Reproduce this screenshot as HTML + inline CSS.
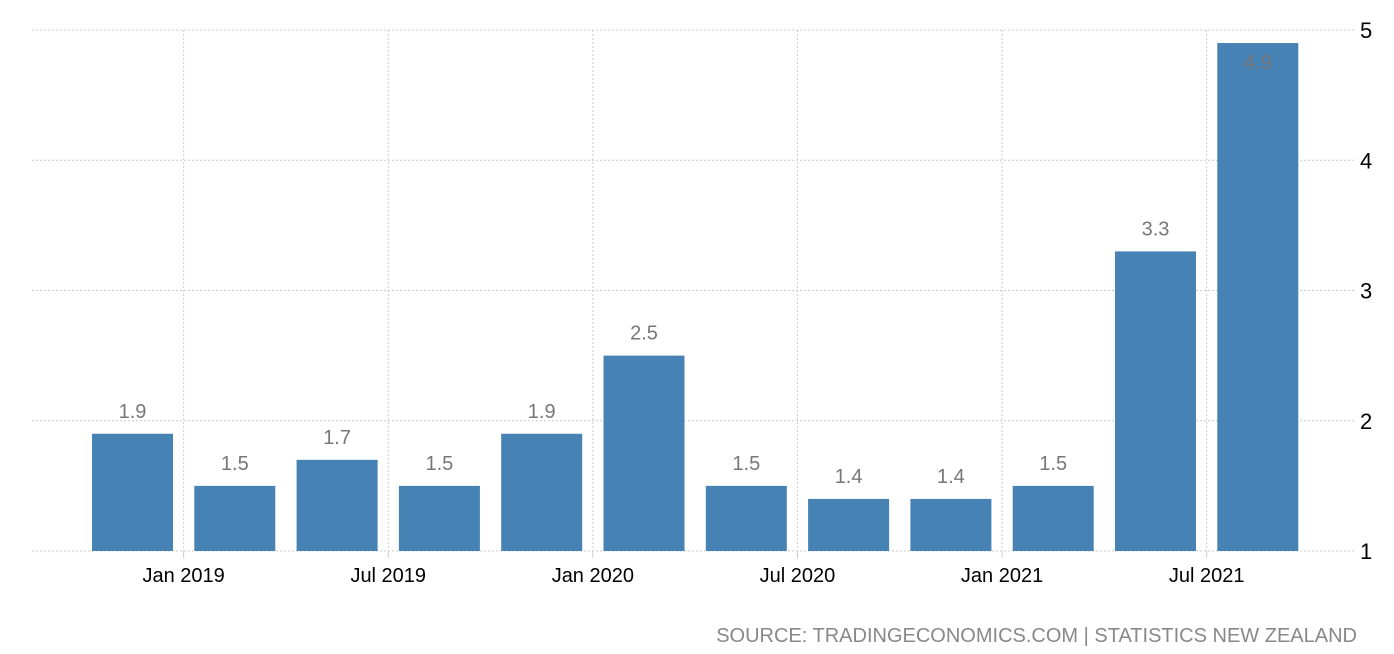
<!DOCTYPE html>
<html><head><meta charset="utf-8"><style>
body{margin:0;background:#fff;}
svg{display:block;font-family:"Liberation Sans","DejaVu Sans",sans-serif;}
</style></head><body>
<svg id="c" width="1394" height="654"></svg>
<script>
const categories=["Oct 2018","Jan 2019","Apr 2019","Jul 2019","Oct 2019","Jan 2020","Apr 2020","Jul 2020","Oct 2020","Jan 2021","Apr 2021","Jul 2021"];
const values=[1.9,1.5,1.7,1.5,1.9,2.5,1.5,1.4,1.4,1.5,3.3,4.9];
const yTicks=[1,2,3,4,5];
const xTickLabels=["Jan 2019","Jul 2019","Jan 2020","Jul 2020","Jan 2021","Jul 2021"];
const xTickIdx=[0.5,2.5,4.5,6.5,8.5,10.5];
const NS="http://www.w3.org/2000/svg";
const svg=document.getElementById('c');
const y=v=>551-(v-1)*130.25;
const x=i=>132.5+i*102.3;
const bw=81;
function mk(t,a,p){const e=document.createElementNS(NS,t);for(const k in a)e.setAttribute(k,a[k]);(p||svg).appendChild(e);return e;}
yTicks.forEach(v=>{
 const l=mk('line',{x1:32,x2:1356,y1:y(v),y2:y(v),stroke:'#ccc','stroke-dasharray':'2,2'});
 
 
 const t=mk('text',{x:1360,y:y(v)+8,'font-size':22,fill:'#000'});t.textContent=v;
 
 
});
xTickIdx.forEach((ix,k)=>{
 const px=x(ix);
 const l=mk('line',{x1:px,x2:px,y1:30,y2:551,stroke:'#ccc','stroke-dasharray':'2,2'});
 
 
 const tk=mk('line',{x1:px,x2:px,y1:551,y2:558,stroke:'#ccc'});
 
 
 const t=mk('text',{x:px,y:582,'font-size':20,fill:'#000','text-anchor':'middle'});t.textContent=xTickLabels[k];
 
 
});
values.forEach((v,i)=>{
 const r=mk('rect',{x:x(i)-bw/2,y:y(v),width:bw,height:551-y(v),fill:'#4682b4'});
 
 
 const inside=y(v)<60;
 const t=mk('text',{x:x(i),y:inside?y(v)+26:y(v)-16,'font-size':20,fill:'#777','text-anchor':'middle'});
 t.textContent=v.toFixed(1);
 
 
});
const s=mk('text',{x:1357,y:642,'font-size':20,fill:'#888','text-anchor':'end'});
s.textContent="SOURCE: TRADINGECONOMICS.COM | STATISTICS NEW ZEALAND";


</script>
</body></html>
